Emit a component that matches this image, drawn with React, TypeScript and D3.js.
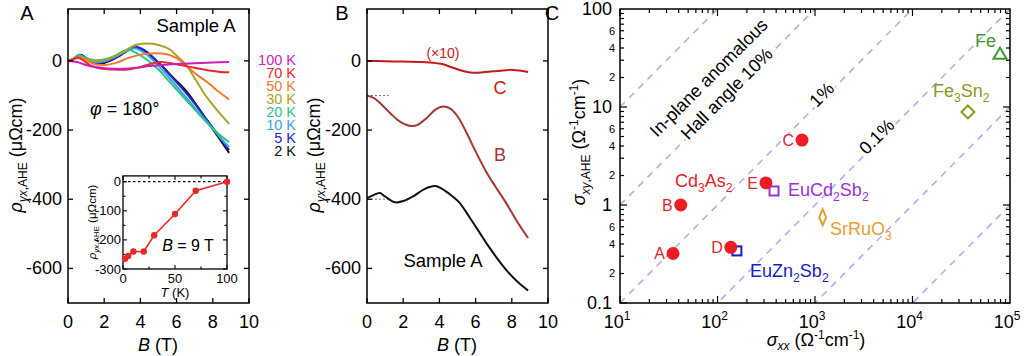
import React from 'react';
import * as d3 from 'd3';

type P = [number, number];

// ---------- Panel A data ----------
const tempLabels = ['100 K', '70 K', '50 K', '30 K', '20 K', '10 K', '5 K', '2 K'];
const tempColors = ['#d21cb8', '#e8282a', '#f27a30', '#aaa424', '#28c488', '#36a6e6', '#2424d0', '#111111'];

const c100K: P[] = [[0,0],[0.5,-3],[1.0,-12],[1.5,-18],[2.2,-22],[3.0,-23],[3.8,-20],[4.5,-15],[5.2,-12],[6.0,-9],[7.0,-7],[8.0,-5],[8.9,-3]];
const c70K: P[] = [[0,0],[0.3,5],[0.5,10],[0.8,3],[1.2,-12],[1.8,-22],[2.5,-25],[3.3,-25],[4.0,-18],[4.6,-8],[5.1,-3],[5.6,-6],[6.2,-12],[7.0,-20],[7.8,-28],[8.4,-32],[8.9,-33]];
const c50K: P[] = [[0,0],[0.3,4],[0.6,10],[1.0,2],[1.5,-10],[2.0,-12],[2.7,-5],[3.3,8],[4.0,18],[4.8,22],[5.4,20],[6.0,8],[6.4,-8],[7.0,-35],[7.7,-62],[8.3,-88],[8.9,-112]];
const c30K: P[] = [[0,0],[0.3,5],[0.6,12],[1.0,5],[1.5,0],[2.2,5],[3.0,25],[3.7,45],[4.3,50],[5.0,46],[5.6,34],[6.0,15],[6.5,-10],[7.0,-50],[7.6,-100],[8.2,-140],[8.9,-182]];
const c20K: P[] = [[0,0],[0.3,6],[0.6,16],[1.0,8],[1.5,2],[2.0,4],[2.6,15],[3.3,32],[3.8,22],[4.4,2],[5.0,-25],[5.6,-60],[6.3,-100],[7.0,-140],[7.7,-180],[8.3,-210],[8.9,-235]];
const c10K: P[] = [[0,0],[0.3,6],[0.6,17],[1.0,7],[1.5,-3],[2.0,-1],[2.7,14],[3.3,30],[3.7,36],[4.2,24],[4.9,-8],[5.6,-50],[6.3,-92],[7.0,-135],[7.7,-178],[8.3,-215],[8.9,-250]];
const c5K: P[] = [[0,0],[0.3,5],[0.6,18],[1.0,8],[1.5,-5],[2.0,-3],[2.7,12],[3.3,30],[3.8,40],[4.3,28],[5.0,-5],[5.7,-45],[6.4,-85],[7.1,-130],[7.7,-172],[8.3,-215],[8.9,-258]];
const c2K: P[] = [[0,0],[0.3,5],[0.7,18],[1.0,8],[1.5,-8],[2.0,-6],[2.7,10],[3.3,30],[3.7,38],[4.15,32],[4.6,12],[5.1,-10],[5.8,-48],[6.5,-85],[7.2,-135],[7.7,-175],[8.3,-220],[8.9,-266]];
const tempCurves: P[][] = [c100K, c70K, c50K, c30K, c20K, c10K, c5K, c2K];

// inset: rho at B = 9 T vs T
const insetT = [2, 5, 10, 20, 30, 50, 70, 100];
const insetRho = [-265, -255, -240, -240, -184, -111, -31, 0];

// ---------- Panel B data ----------
const curveC: P[] = [[0,0],[1,-1],[2,-2],[3,-3],[3.5,-5],[4.2,-10],[4.75,-20],[5.3,-29],[5.85,-34],[6.4,-33],[6.95,-30],[7.5,-28],[7.9,-26],[8.4,-28],[8.9,-32]];
const curveB: P[] = [[0,-100],[0.4,-108],[0.8,-126],[1.3,-152],[1.8,-175],[2.4,-188],[2.8,-185],[3.3,-165],[3.8,-140],[4.2,-132],[4.6,-138],[5.0,-160],[5.5,-208],[6.0,-262],[6.6,-322],[7.1,-364],[7.7,-412],[8.3,-465],[8.9,-512]];
const curveA: P[] = [[0,-397],[0.35,-388],[0.72,-382],[1.0,-392],[1.55,-409],[2.0,-405],[2.6,-390],[3.2,-370],[3.76,-362],[4.3,-375],[4.8,-395],[5.14,-412],[5.7,-455],[6.24,-498],[6.7,-535],[7.18,-570],[7.7,-605],[8.3,-638],[8.9,-664]];

// ---------- Panel C data ----------
const cd3as2Names = ['A', 'B', 'D', 'E', 'C'];
const cd3as2Sxx = [35, 42, 137, 314, 736];
const cd3as2Sxy = [0.32, 1.0, 0.37, 1.68, 4.6];
const otherNames = ['EuCd2Sb2', 'EuZn2Sb2', 'SrRuO3', 'Fe3Sn2', 'Fe'];
const otherSxx = [380, 158, 1200, 37000, 79000];
const otherSxy = [1.39, 0.34, 0.75, 8.9, 35];
const hallRatios = [1, 0.1, 0.01, 0.001, 0.0001, 0.00001];
const yMajorC = [0.1, 1, 10, 100];
const yMajorLabels = ['0.1', '1', '10', '100'];
const xMajorC = [10, 100, 1000, 10000, 100000];
const xMajorExp = ['1', '2', '3', '4', '5'];

const FONT = 'Liberation Sans, Arial, Helvetica, sans-serif';

export default function App() {
  // scales panel A
  const ax = d3.scaleLinear().domain([0, 10]).range([68, 249]);
  const ay = d3.scaleLinear().domain([-700, 150]).range([303, 9]);
  // panel B
  const bx = d3.scaleLinear().domain([0, 10]).range([367, 548]);
  const by = ay;
  // inset
  const ix = d3.scaleLinear().domain([0, 100]).range([123, 227]);
  const iy = d3.scaleLinear().domain([-300, 20]).range([269, 175.9]);
  // panel C
  const cx = d3.scaleLog().domain([10, 1e5]).range([620, 1010]);
  const cy = d3.scaleLog().domain([0.1, 100]).range([303, 9]);

  const lineA = d3.line<P>().x(d => ax(d[0])).y(d => ay(d[1])).curve(d3.curveCatmullRom.alpha(0.5));
  const lineB = d3.line<P>().x(d => bx(d[0])).y(d => by(d[1])).curve(d3.curveCatmullRom.alpha(0.5));
  const lineI = d3.line<number>().x((d, i) => ix(insetT[i])).y(d => iy(d));

  const xTicksAB = [0, 2, 4, 6, 8, 10];
  const yTicksAB = [0, -200, -400, -600];

  const frame = (x0: number, x1: number, y0: number, y1: number, k: string) => (
    <rect key={k} x={x0} y={y0} width={x1 - x0} height={y1 - y0} fill="none" stroke="#000" strokeWidth={1.5} />
  );

  const linTicks = (xs: d3.ScaleLinear<number, number>, ys: d3.ScaleLinear<number, number>, xt: number[], yt: number[], len: number, k: string) => {
    const [x0, x1] = xs.range();
    const [y1, y0] = ys.range();
    const out: React.ReactNode[] = [];
    xt.forEach((t, i) => {
      const X = xs(t);
      out.push(<line key={k + 'xb' + i} x1={X} x2={X} y1={y1} y2={y1 - len} stroke="#000" strokeWidth={1.3} />);
      out.push(<line key={k + 'xt' + i} x1={X} x2={X} y1={y0} y2={y0 + len} stroke="#000" strokeWidth={1.3} />);
    });
    yt.forEach((t, i) => {
      const Y = ys(t);
      out.push(<line key={k + 'yl' + i} x1={x0} x2={x0 + len} y1={Y} y2={Y} stroke="#000" strokeWidth={1.3} />);
      out.push(<line key={k + 'yr' + i} x1={x1} x2={x1 - len} y1={Y} y2={Y} stroke="#000" strokeWidth={1.3} />);
    });
    return out;
  };

  const rhoTitle = (x: number, y: number, fs: number, sub: number, k: string) => (
    <text key={k} transform={`translate(${x},${y}) rotate(-90)`} textAnchor="middle" fontSize={fs} fontFamily={FONT}>
      <tspan fontStyle="italic">ρ</tspan>
      <tspan fontSize={sub} dy={fs * 0.28} fontStyle="italic">yx</tspan>
      <tspan fontSize={sub}>,AHE</tspan>
      <tspan dy={-fs * 0.28}> (μΩcm)</tspan>
    </text>
  );

  const bTitle = (x: number, y: number, k: string) => (
    <text key={k} x={x} y={y} textAnchor="middle" fontSize={18} fontFamily={FONT}>
      <tspan fontStyle="italic">B</tspan> (T)
    </text>
  );

  // Panel C ticks
  const cTicks: React.ReactNode[] = [];
  for (let e = 1; e < 5; e++) {
    for (let m = 1; m < 10; m++) {
      const v = m * Math.pow(10, e);
      const X = cx(v);
      const len = m === 1 ? 7 : 4;
      cTicks.push(<line key={'cxb' + v} x1={X} x2={X} y1={303} y2={303 - len} stroke="#000" strokeWidth={1.2} />);
      cTicks.push(<line key={'cxt' + v} x1={X} x2={X} y1={9} y2={9 + len} stroke="#000" strokeWidth={1.2} />);
    }
  }
  const cMinorLabels: React.ReactNode[] = [];
  for (let e = -1; e < 2; e++) {
    for (let m = 1; m < 10; m++) {
      const v = m * Math.pow(10, e);
      const Y = cy(v);
      const len = m === 1 ? 7 : 4;
      cTicks.push(<line key={'cyl' + v} x1={620} x2={620 + len} y1={Y} y2={Y} stroke="#000" strokeWidth={1.2} />);
      cTicks.push(<line key={'cyr' + v} x1={1010} x2={1010 - len} y1={Y} y2={Y} stroke="#000" strokeWidth={1.2} />);
      if (m === 2 || m === 4 || m === 6) {
        cMinorLabels.push(<text key={'cml' + v} x={615} y={Y + 4} textAnchor="end" fontSize={11} fontFamily={FONT}>{m}</text>);
      }
    }
  }

  const sub = (s: string, fs: number) => {
    // render chemical formula with subscripted digits
    const parts = s.split(/(\d)/).filter(p => p.length > 0);
    const nodes: React.ReactNode[] = [];
    let low = false;
    parts.forEach((p, i) => {
      if (/\d/.test(p)) {
        nodes.push(<tspan key={i} fontSize={fs * 0.68} dy={low ? 0 : fs * 0.3}>{p}</tspan>);
        low = true;
      } else {
        nodes.push(<tspan key={i} dy={low ? -fs * 0.3 : 0}>{p}</tspan>);
        low = false;
      }
    });
    return nodes;
  };

  const otherColors = ['#9a32dc', '#1c1cc4', '#e6a030', '#8c9a1e', '#3f9a2a'];

  const otherMarker = (i: number) => {
    const X = cx(otherSxx[i]);
    const Y = cy(otherSxy[i]);
    const col = otherColors[i];
    if (i === 0 || i === 1) {
      return <rect key={'om' + i} x={X - 4.5} y={Y - 4.5} width={9} height={9} fill="#fff" stroke={col} strokeWidth={2} />;
    }
    if (i === 2) {
      return <path key={'om' + i} d={`M${X},${Y - 8}L${X + 3.5},${Y}L${X},${Y + 8}L${X - 3.5},${Y}Z`} fill="none" stroke={col} strokeWidth={2} />;
    }
    if (i === 3) {
      return <path key={'om' + i} d={`M${X},${Y - 6.5}L${X + 6.5},${Y}L${X},${Y + 6.5}L${X - 6.5},${Y}Z`} fill="none" stroke={col} strokeWidth={2} />;
    }
    return <path key={'om' + i} d={`M${X},${Y - 6}L${X + 6.5},${Y + 5}L${X - 6.5},${Y + 5}Z`} fill="none" stroke={col} strokeWidth={2} />;
  };

  const halo = { stroke: '#fff', strokeWidth: 5, paintOrder: 'stroke' as const, strokeLinejoin: 'round' as const };
  const legendY = [65, 78, 91, 104, 117, 130, 143, 156];

  return (
    <svg width={1024} height={356} style={{ position: 'absolute', left: 0, top: 0, background: '#fff' }} fontFamily={FONT}>
      <rect x={0} y={0} width={1024} height={356} fill="#fff" />
      <defs>
        <clipPath id="clipC"><rect x={620} y={9} width={390} height={294} /></clipPath>
      </defs>

      {/* ---------------- Panel A ---------------- */}
      <text x={27} y={20} fontSize={20} textAnchor="middle" fontFamily={FONT}>A</text>
      {tempCurves.slice().reverse().map((c, i) => {
        const idx = tempCurves.length - 1 - i;
        return <path key={'tc' + idx} d={lineA(c) || ''} fill="none" stroke={tempColors[idx]} strokeWidth={2} />;
      })}
      {frame(68, 249, 9, 303, 'fa')}
      {linTicks(ax, ay, xTicksAB, yTicksAB, 5, 'ta')}
      {yTicksAB.map(t => (
        <text key={'ayl' + t} x={62} y={ay(t) + 6} textAnchor="end" fontSize={18}>{t}</text>
      ))}
      {xTicksAB.map(t => (
        <text key={'axl' + t} x={ax(t)} y={328} textAnchor="middle" fontSize={18}>{t}</text>
      ))}
      {bTitle(158, 351, 'abt')}
      {rhoTitle(22, 155, 18, 12, 'art')}
      <text x={196} y={32} textAnchor="middle" fontSize={18.5}>Sample A</text>
      <text x={90} y={115} fontSize={18}><tspan fontStyle="italic">φ</tspan> = 180°</text>
      {tempLabels.map((l, i) => (
        <text key={'tl' + i} x={296} y={legendY[i]} textAnchor="end" fontSize={14.5} fill={tempColors[i]}>{l}</text>
      ))}

      {/* inset */}
      <rect x={123} y={175.9} width={104} height={93.1} fill="#fff" stroke="#000" strokeWidth={1.3} />
      <line x1={123} x2={227} y1={iy(0)} y2={iy(0)} stroke="#000" strokeWidth={1.2} strokeDasharray="2.5,2.5" />
      {[0, 25, 50, 75, 100].map(t => (
        <g key={'ixt' + t}>
          <line x1={ix(t)} x2={ix(t)} y1={269} y2={269 - (t % 50 === 0 ? 4 : 2.5)} stroke="#000" strokeWidth={1.1} />
          <line x1={ix(t)} x2={ix(t)} y1={175.9} y2={175.9 + (t % 50 === 0 ? 4 : 2.5)} stroke="#000" strokeWidth={1.1} />
        </g>
      ))}
      {[0, -50, -100, -150, -200, -250, -300].map(t => (
        <g key={'iyt' + t}>
          <line x1={123} x2={123 + (t % 100 === 0 ? 4 : 2.5)} y1={iy(t)} y2={iy(t)} stroke="#000" strokeWidth={1.1} />
          <line x1={227} x2={227 - (t % 100 === 0 ? 4 : 2.5)} y1={iy(t)} y2={iy(t)} stroke="#000" strokeWidth={1.1} />
        </g>
      ))}
      <path d={lineI(insetRho) || ''} fill="none" stroke="#e82828" strokeWidth={1.6} />
      {insetRho.map((r, i) => (
        <circle key={'ip' + i} cx={ix(insetT[i])} cy={iy(r)} r={3.2} fill="#e82828" />
      ))}
      {[0, -100, -200, -300].map(t => (
        <text key={'iyl' + t} x={121} y={iy(t) + 4.5} textAnchor="end" fontSize={13}>{t}</text>
      ))}
      {[0, 50, 100].map(t => (
        <text key={'ixl' + t} x={ix(t)} y={283} textAnchor="middle" fontSize={13}>{t}</text>
      ))}
      <text x={175} y={297} textAnchor="middle" fontSize={13}><tspan fontStyle="italic">T</tspan> (K)</text>
      {rhoTitle(96, 222, 11.5, 8, 'irt')}
      <text x={188} y={251} textAnchor="middle" fontSize={16}><tspan fontStyle="italic">B</tspan> = 9 T</text>

      {/* ---------------- Panel B ---------------- */}
      <text x={342} y={20} fontSize={20} textAnchor="middle">B</text>
      <line x1={bx(0)} x2={bx(1.2)} y1={by(-100)} y2={by(-100)} stroke="#777" strokeWidth={1} strokeDasharray="2,2" />
      <line x1={bx(0)} x2={bx(1.2)} y1={by(-400)} y2={by(-400)} stroke="#777" strokeWidth={1} strokeDasharray="2,2" />
      <path d={lineB(curveC) || ''} fill="none" stroke="#c81818" strokeWidth={2} />
      <path d={lineB(curveB) || ''} fill="none" stroke="#a83434" strokeWidth={2} />
      <path d={lineB(curveA) || ''} fill="none" stroke="#111" strokeWidth={2} />
      {frame(367, 548, 9, 303, 'fb')}
      {linTicks(bx, by, xTicksAB, yTicksAB, 5, 'tb')}
      {yTicksAB.map(t => (
        <text key={'byl' + t} x={361} y={by(t) + 6} textAnchor="end" fontSize={18}>{t}</text>
      ))}
      {xTicksAB.map(t => (
        <text key={'bxl' + t} x={bx(t)} y={328} textAnchor="middle" fontSize={18}>{t}</text>
      ))}
      {bTitle(457, 351, 'bbt')}
      {rhoTitle(320, 155, 18, 12, 'brt')}
      <text x={443} y={58} textAnchor="middle" fontSize={14} fill="#c81818">(×10)</text>
      <text x={500} y={94} textAnchor="middle" fontSize={18} fill="#c81818">C</text>
      <text x={500} y={161} textAnchor="middle" fontSize={18} fill="#a83434">B</text>
      <text x={443} y={267} textAnchor="middle" fontSize={18.5}>Sample A</text>

      {/* ---------------- Panel C ---------------- */}
      <text x={552} y={20} fontSize={20} textAnchor="middle">C</text>
      <g clipPath="url(#clipC)">
        {hallRatios.map(r => (
          <line key={'hr' + r} x1={cx(10)} y1={cy(10 * r)} x2={cx(1e5)} y2={cy(1e5 * r)} stroke="#aeb2e6" strokeWidth={1.6} strokeDasharray="7,6" />
        ))}
      </g>
      {frame(620, 1010, 9, 303, 'fc')}
      {cTicks}
      {cMinorLabels}
      {yMajorC.map((v, i) => (
        <text key={'cyl' + v} x={612} y={cy(v) + 6} textAnchor="end" fontSize={18}>{yMajorLabels[i]}</text>
      ))}
      {xMajorC.map((v, i) => (
        <text key={'cxl' + v} x={cx(v) - 3} y={328} textAnchor="middle" fontSize={18}>
          10<tspan fontSize={12} dy={-8}>{xMajorExp[i]}</tspan>
        </text>
      ))}
      <text x={816} y={346} textAnchor="middle" fontSize={18}>
        <tspan fontStyle="italic">σ</tspan>
        <tspan fontSize={12} dy={4} fontStyle="italic">xx</tspan>
        <tspan dy={-4}> (Ω</tspan>
        <tspan fontSize={12} dy={-7}>-1</tspan>
        <tspan dy={7}>cm</tspan>
        <tspan fontSize={12} dy={-7}>-1</tspan>
        <tspan dy={7}>)</tspan>
      </text>
      <text transform="translate(585,142) rotate(-90)" textAnchor="middle" fontSize={18}>
        <tspan fontStyle="italic">σ</tspan>
        <tspan fontSize={12} dy={5} fontStyle="italic">xy</tspan>
        <tspan fontSize={12}>,AHE</tspan>
        <tspan dy={-5}> (Ω</tspan>
        <tspan fontSize={12} dy={-7}>-1</tspan>
        <tspan dy={7}>cm</tspan>
        <tspan fontSize={12} dy={-7}>-1</tspan>
        <tspan dy={7}>)</tspan>
      </text>

      {/* diagonal labels */}
      <text transform="translate(713,82) rotate(-45)" textAnchor="middle" fontSize={18} {...halo}>In-plane anomalous</text>
      <text transform="translate(731,98) rotate(-45)" textAnchor="middle" fontSize={18} {...halo}>Hall angle 10%</text>
      <text transform="translate(826,99) rotate(-45)" textAnchor="middle" fontSize={18} {...halo}>1%</text>
      <text transform="translate(881,141) rotate(-45)" textAnchor="middle" fontSize={18} {...halo}>0.1%</text>

      {/* markers */}
      {otherNames.map((n, i) => otherMarker(i))}
      {cd3as2Names.map((n, i) => (
        <g key={'cd' + n}>
          <circle cx={cx(cd3as2Sxx[i])} cy={cy(cd3as2Sxy[i])} r={6.5} fill="#ee1c24" />
          <text x={cx(cd3as2Sxx[i]) - 8} y={cy(cd3as2Sxy[i]) + 6} textAnchor="end" fontSize={16} fill="#e0282e">{n}</text>
        </g>
      ))}
      <text x={675} y={187} fontSize={18} fill="#e8202a">{sub('Cd3As2', 18)}</text>
      <text x={788} y={196} fontSize={18} fill={otherColors[0]}>{sub(otherNames[0], 18)}</text>
      <text x={750} y={277} fontSize={18} fill={otherColors[1]}>{sub(otherNames[1], 18)}</text>
      <text x={830} y={235} fontSize={18} fill={otherColors[2]}>{sub(otherNames[2], 18)}</text>
      <text x={933} y={97} fontSize={18} fill={otherColors[3]}>{sub(otherNames[3], 18)}</text>
      <text x={975} y={47} fontSize={18} fill={otherColors[4]}>{sub(otherNames[4], 18)}</text>
    </svg>
  );
}
